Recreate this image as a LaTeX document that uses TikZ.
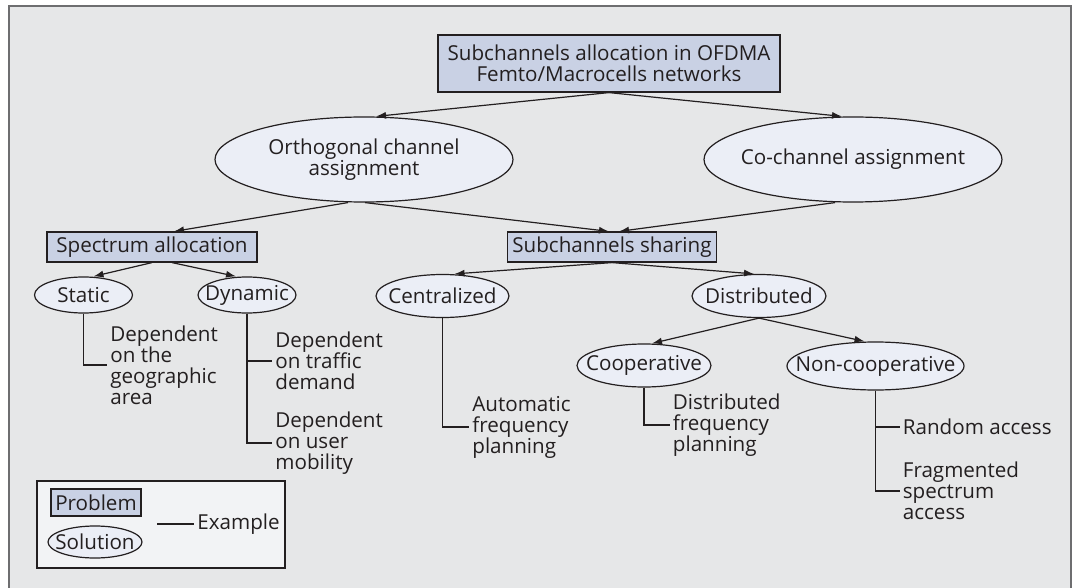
\documentclass[tikz,border=0pt]{standalone}
\usepackage{fontspec}
\setmainfont{Open Sans}
\usetikzlibrary{shapes.geometric,arrows.meta}

\newlength{\du}
\setlength{\du}{0.5pt}

\definecolor{panelgrey}{rgb}{0.902, 0.906, 0.910}
\definecolor{panelline}{rgb}{0.430, 0.430, 0.440}
\definecolor{problemfill}{rgb}{0.788, 0.820, 0.894}
\definecolor{solutionfill}{rgb}{0.922, 0.933, 0.965}
\definecolor{legendfill}{rgb}{0.949, 0.953, 0.961}
\definecolor{inkline}{rgb}{0.137, 0.122, 0.125}

\tikzset{
  problem/.style={draw=inkline, fill=problemfill, line width=0.6pt, inner sep=0pt, align=center},
  solution/.style={ellipse, draw=inkline, fill=solutionfill, line width=0.6pt,
    inner xsep=-120\du, inner ysep=-40\du, align=center},
  example/.style={anchor=west, align=left, inner xsep=3\du, inner ysep=0pt},
  arr/.style={draw=inkline, line width=0.6pt, -{Latex[length=5pt,width=3.5pt]}},
  stem/.style={draw=inkline, line width=0.6pt},
}

\begin{document}
\begin{tikzpicture}[font=\fontsize{10.3}{10.5}\selectfont, text=inkline]
\pgftransformyscale{-1.000000}
\useasboundingbox (0\du,0\du) rectangle (1075\du,588\du);
\fill[panelgrey] (9\du,6\du) rectangle (1071\du,588\du);
\draw[panelline, line width=0.6pt] (9\du,588\du)--(9\du,6\du)--(1071\du,6\du)--(1071\du,588\du);

% problems
\node[problem, minimum width=342\du, minimum height=57\du] (root) at (609\du,63.5\du)
  {Subchannels allocation in OFDMA\\Femto/Macrocells networks};
\node[problem, minimum width=210\du, minimum height=30\du] (spectrum) at (152\du,247\du) {Spectrum allocation};
\node[problem, minimum width=209\du, minimum height=30\du] (sharing) at (612\du,247\du) {Subchannels sharing};

% solutions
\node[solution, minimum width=298\du, minimum height=85\du] (ortho) at (364\du,159.5\du) {Orthogonal channel\\assignment};
\node[solution, minimum width=298\du, minimum height=85\du] (cochan) at (853\du,159.5\du) {Co-channel assignment};
\node[solution, minimum width=98\du, minimum height=36\du] (static) at (83.5\du,295\du) {Static};
\node[solution, minimum width=98\du, minimum height=36\du] (dynamic) at (247\du,295\du) {Dynamic};
\node[solution, minimum width=133\du, minimum height=43\du] (central) at (442.5\du,296\du) {Centralized};
\node[solution, minimum width=134\du, minimum height=43\du] (distrib) at (759\du,296\du) {Distributed};
\node[solution, minimum width=134\du, minimum height=43\du] (coop) at (644\du,365.5\du) {Cooperative};
\node[solution, minimum width=177\du, minimum height=48\du] (noncoop) at (875.5\du,366\du) {Non-cooperative};

% examples
\node[example] (geoarea) at (107\du,365\du) {Dependent\\on the\\geographic\\area};
\node[example] (traffic) at (272\du,361\du) {Dependent\\on traffic\\demand};
\node[example] (mobility) at (272\du,443\du) {Dependent\\on user\\mobility};
\node[example] (autofreq) at (469\du,427\du) {Automatic\\frequency\\planning};
\node[example] (distfreq) at (669.5\du,425\du) {Distributed\\frequency\\planning};
\node[example] (random) at (899.5\du,427\du) {Random access};
\node[example] (fragment) at (899.5\du,491\du) {Fragmented\\spectrum\\access};

\draw[arr] (root.south) -- ([xshift=12\du]ortho.north);
\draw[arr] (root.south) -- ([xshift=-11\du]cochan.north);
\draw[arr] ([xshift=-16\du]ortho.south) -- ([xshift=22\du]spectrum.north);
\draw[arr] ([xshift=1\du]ortho.south) -- ([xshift=-3\du]sharing.north);
\draw[arr] ([xshift=-18\du]cochan.south) -- ([xshift=7\du]sharing.north);
\draw[arr] (spectrum.south) -- ([xshift=10\du]static.north);
\draw[arr] ([xshift=20\du]spectrum.south) -- ([xshift=-11\du]dynamic.north);
\draw[arr] (sharing.south) -- ([xshift=12\du]central.north);
\draw[arr] (sharing.south) -- ([xshift=-5\du]distrib.north);
\draw[arr] (distrib.south) -- ([xshift=8\du]coop.north);
\draw[arr] (distrib.south) -- ([xshift=-11\du]noncoop.north);

\draw[stem] (static.south) |- (geoarea.west);
\draw[stem] (dynamic.south) |- (traffic.west);
\draw[stem] (dynamic.south) |- (mobility.west);
\draw[stem] (central.south) |- (autofreq.west);
\draw[stem] (coop.south) |- (distfreq.west);
\draw[stem] (noncoop.south) |- (random.west);
\draw[stem] (noncoop.south) |- (fragment.west);

% legend
\draw[draw=inkline, fill=legendfill, line width=0.6pt] (37\du,481\du) rectangle (285\du,568\du);
\node[problem, minimum width=90\du, minimum height=27\du] (legprob) at (96\du,502.5\du) {Problem};
\node[solution, minimum width=94\du, minimum height=32\du] (legsol) at (95\du,542\du) {Solution};
\node[example] (legex) at (194\du,524\du) {Example};
\coordinate (legtick) at (157\du,524\du);
\draw[stem] (legtick) -- (legex.west);
\end{tikzpicture}
\end{document}
